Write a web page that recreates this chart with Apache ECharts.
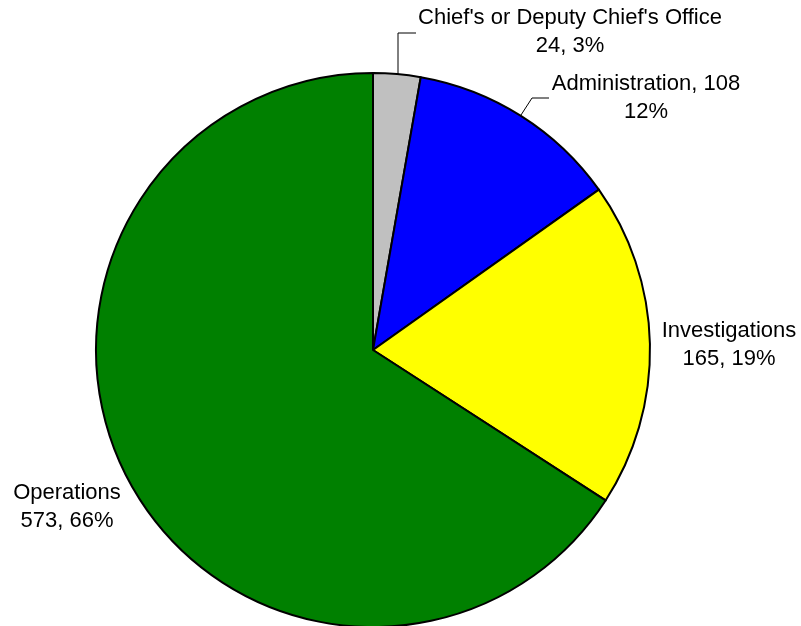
<!DOCTYPE html>
<html>
<head>
<meta charset="utf-8">
<script src="https://cdn.jsdelivr.net/npm/echarts@6/dist/echarts.min.js"></script>
<style>html,body{margin:0;padding:0;background:#fff}#c{width:801px;height:626px}</style>
</head>
<body>
<div id="c"></div>
<script>
var categories = ["Chief's or Deputy Chief's Office", "Administration", "Investigations", "Operations"];
var values = [24, 108, 165, 573];
var colors = ["#C0C0C0", "#0000FF", "#FFFF00", "#008000"];

var total = values.reduce(function(a, b){ return a + b; }, 0);
function pct(v){ return Math.round(v / total * 100) + '%'; }
var labelTexts = [
  categories[0] + '\n' + values[0] + ', ' + pct(values[0]),
  categories[1] + ', ' + values[1] + '\n' + pct(values[1]),
  categories[2] + '\n' + values[2] + ', ' + pct(values[2]),
  categories[3] + '\n' + values[3] + ', ' + pct(values[3])
];
var labelPos = [[570, 32], [646, 98], [729, 345], [67, 507]];
var linePts = [
  [[398, 75], [398, 33], [416, 33]],
  [[521, 115], [532, 98], [549, 98]],
  null, null
];

var chart = echarts.init(document.getElementById('c'), null, {renderer: 'canvas'});
chart.setOption({
  animation: false,
  backgroundColor: '#fff',
  series: [{
    type: 'pie',
    center: [373, 350],
    radius: 277,
    startAngle: 90,
    clockwise: true,
    avoidLabelOverlap: false,
    itemStyle: {borderColor: '#000', borderWidth: 2},
    label: {
      show: true,
      position: 'outside',
      fontFamily: 'Liberation Sans, Arial, sans-serif',
      fontSize: 22,
      lineHeight: 28,
      color: '#000',
      align: 'center',
      formatter: function(p){ return labelTexts[p.dataIndex]; }
    },
    labelLine: {show: true, lineStyle: {color: '#000', width: 1}},
    labelLayout: function(p){
      var i = p.dataIndex;
      var r = {x: labelPos[i][0], y: labelPos[i][1], align: 'center', verticalAlign: 'middle'};
      if (linePts[i]) r.labelLinePoints = linePts[i];
      return r;
    },
    emphasis: {disabled: true},
    data: categories.map(function(c, i){
      return {
        name: c, value: values[i],
        itemStyle: {color: colors[i]},
        labelLine: {show: !!linePts[i]}
      };
    })
  }]
});
</script>
</body>
</html>
